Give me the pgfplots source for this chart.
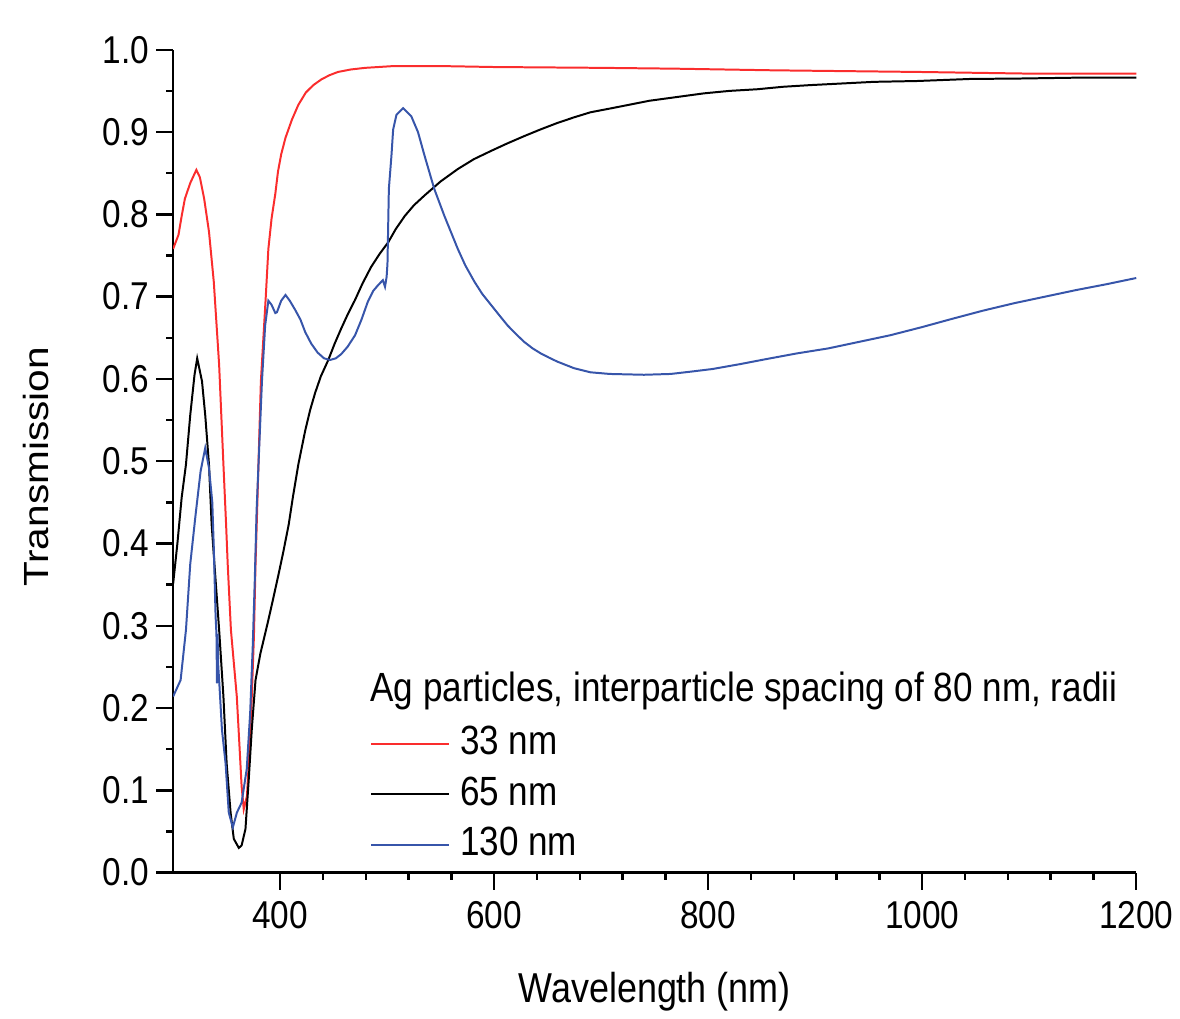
\documentclass[border=0pt]{standalone}
\usepackage{fontspec}
\setmainfont{Liberation Sans}[FakeStretch=0.86]
\newfontfamily\plainsans{Liberation Sans}
\usepackage{pgfplots}
\pgfplotsset{compat=1.18}
\usepackage{graphicx}

\definecolor{rred}{RGB}{250,45,45}
\definecolor{rblue}{RGB}{55,85,170}

\begin{document}
\begin{tikzpicture}
\begin{axis}[
    scale only axis,
    width=484pt, height=413.5pt,
    xmin=300, xmax=1200, ymin=0, ymax=1,
    axis x line=bottom, axis y line=left,
    axis line style={-, line width=1.2pt},
    tick style={line width=1.2pt, black},
    tick align=outside,
    major tick length=8.5pt, minor tick length=3.5pt,
    xtick={400,600,800,1000,1200},
    minor x tick num=4,
    ytick={0,0.1,...,1.0},
    minor y tick num=1,
    /pgf/number format/assume math mode=true,
    ticklabel style={font=\fontsize{19.5}{23}\selectfont},
    xticklabel style={/pgf/number format/set thousands separator={}, yshift=-2.5pt},
    yticklabel style={/pgf/number format/.cd, fixed, fixed zerofill, precision=1},
    xlabel={Wavelength (nm)},
    xlabel style={font=\fontsize{21}{25}\selectfont, at={(axis description cs:0.5,-0.1584)}, anchor=base},
    ylabel={\scalebox{1}[0.86]{\plainsans Transmission}},
    ylabel style={font=\fontsize{20.4}{24}\selectfont, at={(axis description cs:-0.1426,0.493)}, anchor=center},
    legend style={draw=none, fill=none, at={(axis description cs:0.2045,0.095)}, anchor=west,
        inner sep=0pt, font=\fontsize{20.5}{24}\selectfont,
        nodes={text height=15pt, text depth=4pt, inner ysep=3.2pt, inner xsep=5pt}},
    legend cell align=left,
    legend image code/.code={\draw[#1, line width=1pt] (0pt,0pt) -- (39pt,0pt);},
]
\addplot[rred, line width=1pt] coordinates {
(300,0.758) (305,0.775) (308,0.798) (311,0.819) (316,0.838) (321.7,0.854)
(325,0.845) (329,0.819) (333.5,0.779) (338,0.718) (343,0.617) (347,0.496)
(349.5,0.423) (351,0.375) (354,0.295) (359.5,0.214) (362,0.154) (364,0.105)
(366,0.077) (369,0.093) (370.7,0.133) (373.5,0.214) (375.5,0.287) (377,0.375)
(378.5,0.44) (382,0.597) (386.5,0.698) (389,0.758) (392,0.795) (395.5,0.825)
(398,0.852) (401,0.873) (405,0.893) (411,0.915) (417,0.933) (424,0.948)
(431,0.957) (438.6,0.964) (446,0.969) (454,0.973) (466,0.976) (479.5,0.978)
(504,0.980) (557,0.980) (600,0.979) (700,0.978) (769,0.977) (861,0.975)
(997,0.973) (1100,0.971) (1200,0.971)
};
\addlegendentry{33 nm}
\addplot[black, line width=1pt] coordinates {
(300,0.351) (304,0.40) (308,0.456) (312,0.496) (316,0.556) (320,0.605)
(322.5,0.625) (327,0.597) (330,0.556) (333.5,0.496) (336,0.423) (339.7,0.355)
(343,0.295) (347,0.214) (350,0.133) (353.7,0.073) (356.7,0.041) (361.4,0.030)
(364,0.033) (367.6,0.053) (370.7,0.114) (373.5,0.174) (377,0.234) (381.5,0.266)
(385,0.285) (389,0.307) (393,0.330) (398.6,0.363) (403,0.390) (408,0.423)
(412,0.457) (417,0.496) (423.4,0.537) (428,0.562) (432.7,0.583) (438,0.603)
(445,0.623) (451,0.643) (457,0.661) (463,0.678) (470,0.696) (477,0.716)
(485,0.736) (493,0.752) (501,0.766) (508,0.782) (516.5,0.798) (525,0.811)
(535,0.823) (550,0.840) (566,0.855) (581,0.867) (597,0.877) (612,0.886)
(628,0.895) (643,0.903) (659,0.911) (675,0.918) (690,0.924) (710,0.929)
(729.5,0.934) (745,0.938) (762,0.941) (779,0.944) (796,0.947) (820,0.950)
(846,0.952) (870,0.955) (895,0.957) (925,0.959) (955,0.961) (995,0.962)
(1045,0.9645) (1090,0.965) (1141,0.966) (1200,0.966)
};
\addlegendentry{65 nm}
\addplot[rblue, line width=1pt] coordinates {
(300,0.214) (307,0.234) (312,0.295) (316,0.375) (321,0.435) (325.7,0.488)
(330,0.516) (333.5,0.492) (336.6,0.45) (338,0.395) (339.7,0.311) (340.5,0.29)
(341,0.23) (341.5,0.29) (342.2,0.25) (343,0.234) (345.6,0.174) (349,0.133)
(352,0.073) (355.8,0.055) (359.6,0.073) (364,0.085) (368.8,0.126) (372,0.194)
(374.4,0.275) (376.3,0.355) (378,0.44) (383,0.597) (386,0.665) (389,0.695)
(392,0.690) (395.5,0.680) (397,0.681) (401,0.695) (405,0.702) (409,0.695)
(414,0.684) (419,0.672) (423.4,0.657) (429,0.643) (435,0.632) (441,0.625)
(446.7,0.623) (452,0.625) (457,0.630) (463,0.639) (470,0.653) (476,0.672)
(482,0.694) (487,0.707) (491.6,0.714) (496,0.720) (498,0.712) (499.5,0.724)
(500.3,0.74) (501.6,0.831) (504,0.871) (505.6,0.903) (508.7,0.921) (514.9,0.929)
(522.6,0.919) (528.8,0.900) (535,0.871) (544,0.831) (553.5,0.798) (566,0.758)
(573,0.738) (581.6,0.718) (589,0.703) (597,0.690) (605,0.677) (612.5,0.665)
(620,0.655) (628,0.645) (636,0.637) (643.5,0.631) (651,0.626) (659,0.621)
(674.6,0.613) (690,0.608) (708,0.606) (740,0.605) (765,0.606) (785,0.609)
(804,0.612) (830,0.618) (854,0.624) (883,0.631) (912,0.637) (941,0.645)
(970,0.653) (1000,0.663) (1028,0.673) (1057,0.683) (1086,0.692) (1115,0.700)
(1144,0.708) (1172,0.715) (1200,0.7226)
};
\addlegendentry{130 nm}
\node[anchor=base west, inner sep=0pt, font=\fontsize{20.5}{24}\selectfont]
    at (axis description cs:0.2045,0.208) {Ag particles, interparticle spacing of 80 nm, radii};
\end{axis}
\path ([shift={(-87pt,-73pt)}]current axis.south west) rectangle ([shift={(19pt,25pt)}]current axis.north east);
\end{tikzpicture}
\end{document}
